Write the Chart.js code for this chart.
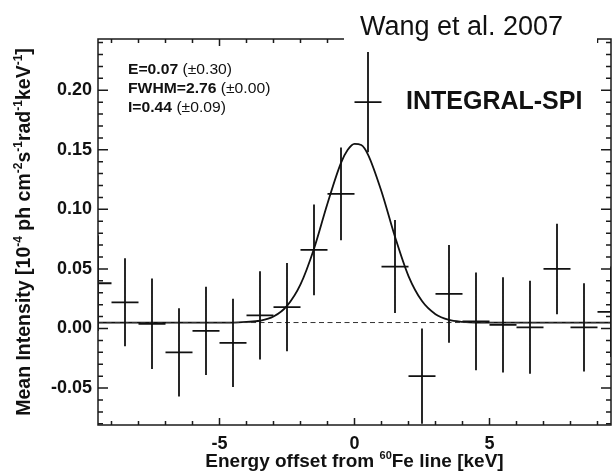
<!DOCTYPE html>
<html>
<head>
<meta charset="utf-8">
<script src="https://cdn.jsdelivr.net/npm/chart.js@4.4.1/dist/chart.umd.min.js"></script>
<style>
  html, body { margin: 0; padding: 0; background: #fff; }
  #wrap { position: relative; width: 612px; height: 474px; }
</style>
</head>
<body>
<div id="wrap"><canvas id="spiChart" width="612" height="474"></canvas></div>
<script>
// Spectrum bins, keV offset from the 60Fe line (1 keV wide)
const binCenters = [-9.5, -8.5, -7.5, -6.5, -5.5, -4.5, -3.5, -2.5, -1.5, -0.5, 0.5, 1.5, 2.5, 3.5, 4.5, 5.5, 6.5, 7.5, 8.5, 9.5];
const binValues = [0.038, 0.022, 0.004, -0.020, -0.002, -0.012, 0.011, 0.018, 0.066, 0.113, 0.190, 0.052, -0.040, 0.029, 0.006, 0.003, 0.001, 0.050, 0.001, 0.014];
const binErrors = [0.040, 0.037, 0.038, 0.037, 0.037, 0.037, 0.037, 0.037, 0.038, 0.039, 0.042, 0.039, 0.040, 0.041, 0.041, 0.040, 0.039, 0.038, 0.037, 0.038];
const binHalfWidth = 0.5;

// Fitted line (gaussian + flat background)
const fitEnergy = [-9.5, -4.5, -4, -3.5, -3, -2.5, -2, -1.5, -1, -0.5, -0.25, 0, 0.25, 0.5, 1, 1.5, 2, 2.5, 3, 3.5, 4, 4.5, 9.5];
const fitIntensity = [0.005, 0.005, 0.0055, 0.0065, 0.010, 0.019, 0.037, 0.067, 0.105, 0.139, 0.150, 0.155, 0.154, 0.146, 0.115, 0.077, 0.044, 0.023, 0.012, 0.0072, 0.0056, 0.005, 0.005];
const backgroundEnergy = [-9.5, 9.5];
const backgroundLevel = [0.005, 0.005];

// Axes
const xRange = [-9.5, 9.5];
const yRange = [-0.081, 0.243];
const xMajorTicks = [-5, 0, 5];
const yMajorTicks = [-0.05, 0.00, 0.05, 0.10, 0.15, 0.20];
const xMinorTicks = [-9, -8, -7, -6, -5, -4, -3, -2, -1, 0, 1, 2, 3, 4, 5, 6, 7, 8, 9];
const yMinorTicks = [-0.08, -0.07, -0.06, -0.05, -0.04, -0.03, -0.02, -0.01, 0.00, 0.01, 0.02, 0.03, 0.04, 0.05,
  0.06, 0.07, 0.08, 0.09, 0.10, 0.11, 0.12, 0.13, 0.14, 0.15, 0.16, 0.17, 0.18, 0.19, 0.20, 0.21, 0.22, 0.23, 0.24];

// axis titles as [text, superscript?] pieces
const xTitleParts = [['Energy offset from ', false], ['60', true], ['Fe line [keV]', false]];
const yTitleParts = [['Mean Intensity [10', false], ['-4', true], [' ph cm', false], ['-2', true], ['s', false],
  ['-1', true], ['rad', false], ['-1', true], ['keV', false], ['-1', true], [']', false]];

// Fit results box
const fitLabels = [
  ['E=0.07', ' (\u00b10.30)'],
  ['FWHM=2.76', ' (\u00b10.00)'],
  ['I=0.44', ' (\u00b10.09)']
];

const FONT = '"Liberation Sans", Arial, Helvetica, sans-serif';
const INK = '#111';

// write a title with superscripts, centred on (0,0) of the current transform
function drawTitle(ctx, parts, size) {
  const big = 'bold ' + size + 'px ' + FONT;
  const small = 'bold ' + Math.round(size * 0.6) + 'px ' + FONT;
  let total = 0;
  parts.forEach(p => { ctx.font = p[1] ? small : big; total += ctx.measureText(p[0]).width; });
  let x = -total / 2;
  parts.forEach(p => {
    ctx.font = p[1] ? small : big;
    ctx.fillText(p[0], x, p[1] ? -size * 0.42 : 0);
    x += ctx.measureText(p[0]).width;
  });
}

// crosses: horizontal = bin width, vertical = 1 sigma
const errorBars = {
  id: 'errorBars',
  afterDatasetsDraw(chart) {
    const { ctx, chartArea: a, scales: { x, y } } = chart;
    const pts = chart.data.datasets[2].data;
    ctx.save();
    ctx.beginPath();
    ctx.rect(a.left, a.top, a.right - a.left, a.bottom - a.top);
    ctx.clip();
    ctx.strokeStyle = INK;
    ctx.lineWidth = 1.8;
    ctx.beginPath();
    pts.forEach(p => {
      const px = x.getPixelForValue(p.x);
      const py = y.getPixelForValue(p.y);
      ctx.moveTo(x.getPixelForValue(p.x - binHalfWidth), py);
      ctx.lineTo(x.getPixelForValue(p.x + binHalfWidth), py);
      ctx.moveTo(px, y.getPixelForValue(p.y + p.err));
      ctx.lineTo(px, y.getPixelForValue(p.y - p.err));
    });
    ctx.stroke();
    ctx.restore();
  }
};

// box frame with inward ticks on all four sides, plus the text
const frameAndText = {
  id: 'frameAndText',
  afterDraw(chart) {
    const { ctx, chartArea: a, scales: { x, y } } = chart;
    ctx.save();
    ctx.strokeStyle = '#1a1a1a';
    ctx.lineWidth = 1.5;
    ctx.strokeRect(a.left, a.top, a.right - a.left, a.bottom - a.top);

    ctx.beginPath();
    xMinorTicks.forEach(v => {
      const px = x.getPixelForValue(v);
      const len = xMajorTicks.includes(v) ? 7 : 4;
      ctx.moveTo(px, a.bottom); ctx.lineTo(px, a.bottom - len);
      ctx.moveTo(px, a.top); ctx.lineTo(px, a.top + len);
    });
    yMinorTicks.forEach(v => {
      const py = y.getPixelForValue(v);
      const len = yMajorTicks.some(m => Math.abs(m - v) < 1e-6) ? 10 : 5;
      ctx.moveTo(a.left, py); ctx.lineTo(a.left + len, py);
      ctx.moveTo(a.right, py); ctx.lineTo(a.right - len, py);
    });
    ctx.stroke();

    // white label box pasted over the top axis
    ctx.fillStyle = '#fff';
    ctx.fillRect(344, 0, 253, 46);

    ctx.fillStyle = INK;
    ctx.textBaseline = 'alphabetic';
    ctx.font = '27px ' + FONT;
    ctx.fillText('Wang et al. 2007', 360, 35);

    ctx.font = 'bold 25px ' + FONT;
    ctx.fillText('INTEGRAL-SPI', 406, 109);

    // fit parameters (the original figure is stretched sideways a bit)
    fitLabels.forEach((parts, i) => {
      ctx.save();
      ctx.translate(128, 74 + i * 19);
      ctx.scale(1.12, 1);
      ctx.font = 'bold 14px ' + FONT;
      ctx.fillText(parts[0], 0, 0);
      const w = ctx.measureText(parts[0]).width;
      ctx.font = '14px ' + FONT;
      ctx.fillText(parts[1], w, 0);
      ctx.restore();
    });

    // axis titles
    ctx.save();
    ctx.translate((a.left + a.right) / 2, 467);
    drawTitle(ctx, xTitleParts, 19);
    ctx.restore();

    ctx.save();
    ctx.translate(30, (a.top + a.bottom) / 2);
    ctx.rotate(-Math.PI / 2);
    drawTitle(ctx, yTitleParts, 19.5);
    ctx.restore();

    ctx.restore();
  }
};

const ctx = document.getElementById('spiChart').getContext('2d');
const spiChart = new Chart(ctx, {
  type: 'scatter',
  data: {
    datasets: [{
      type: 'line',
      label: 'background',
      data: backgroundEnergy.map((e, i) => ({ x: e, y: backgroundLevel[i] })),
      borderColor: '#333',
      borderWidth: 1,
      borderDash: [5, 3.5],
      pointRadius: 0
    }, {
      type: 'line',
      label: 'fit',
      data: fitEnergy.map((e, i) => ({ x: e, y: fitIntensity[i] })),
      borderColor: INK,
      borderWidth: 1.8,
      cubicInterpolationMode: 'monotone',
      pointRadius: 0
    }, {
      label: 'SPI data',
      data: binCenters.map((c, i) => ({ x: c, y: binValues[i], err: binErrors[i] })),
      pointRadius: 0,
      pointHoverRadius: 0
    }]
  },
  options: {
    responsive: false,
    animation: false,
    devicePixelRatio: 1,
    layout: { padding: { top: 39, right: 1, left: 0, bottom: 0 } },
    plugins: { legend: { display: false }, tooltip: { enabled: false } },
    scales: {
      x: {
        type: 'linear',
        min: xRange[0],
        max: xRange[1],
        grid: { display: false, drawTicks: false },
        border: { display: false },
        afterBuildTicks: s => { s.ticks = xMajorTicks.map(v => ({ value: v })); },
        afterFit: s => { s.height = 49; },
        ticks: {
          padding: 8,
          color: INK,
          font: { family: FONT, size: 18, weight: 'bold' },
          callback: v => String(v)
        }
      },
      y: {
        type: 'linear',
        min: yRange[0],
        max: yRange[1],
        grid: { display: false, drawTicks: false },
        border: { display: false },
        afterBuildTicks: s => { s.ticks = yMajorTicks.map(v => ({ value: v })); },
        afterFit: s => { s.width = 98; },
        ticks: {
          padding: 6,
          color: INK,
          font: { family: FONT, size: 18, weight: 'bold' },
          callback: v => v.toFixed(2)
        }
      }
    }
  },
  plugins: [errorBars, frameAndText]
});
</script>
</body>
</html>
